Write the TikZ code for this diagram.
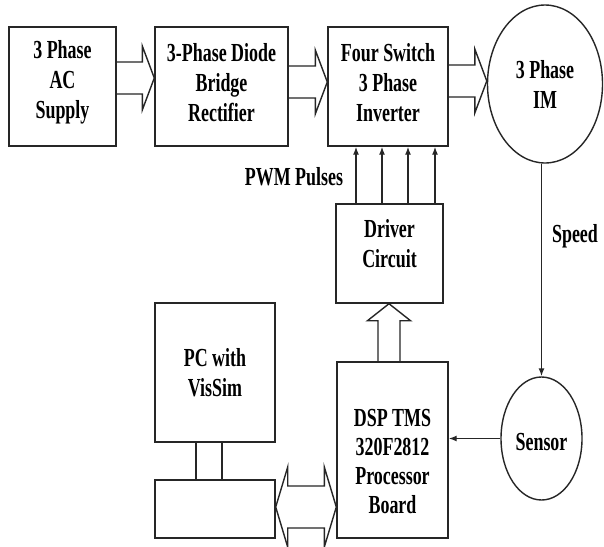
\documentclass[tikz,border=0pt]{standalone}
\usepackage{fontspec}
\setmainfont[FakeStretch=0.69,BoldFont={Liberation Serif Bold}]{Liberation Serif}
\usetikzlibrary{shapes.geometric,arrows.meta,calc}
\tikzset{
  ln/.style={line width=1.4pt, draw=black!85},
  box/.style={ln, rectangle, inner sep=0pt},
  oval/.style={ln, ellipse, inner sep=0pt},
  txt/.style={align=center, font=\fontsize{26}{30}\selectfont\bfseries, inner sep=0pt},
  hollowline/.style={ln, line join=miter},
  thin/.style={ln, -{Latex[length=8pt,width=6pt]}},
}
% hollow arrow to the right: from #1.east to #2.west, centred on y=#3
\newcommand\hollowR[3]{\draw[hollowline] let \p1=(#1.east), \p2=(#2.west) in
  (\x1,-#3pt+16pt) -- (\x2-12pt,-#3pt+16pt) -- (\x2-12pt,-#3pt+32pt) -- (\x2,-#3pt)
  -- (\x2-12pt,-#3pt-32pt) -- (\x2-12pt,-#3pt-16pt) -- (\x1,-#3pt-16pt);}
% hollow arrow upwards: from #1.north to #2.south, centred on x=#3
\newcommand\hollowU[3]{\draw[hollowline] let \p1=(#1.north), \p2=(#2.south) in
  (#3pt-11pt,\y1) -- (#3pt-11pt,\y2-17pt) -- (#3pt-21.5pt,\y2-17pt) -- (#3pt,\y2)
  -- (#3pt+21.5pt,\y2-17pt) -- (#3pt+11pt,\y2-17pt) -- (#3pt+11pt,\y1);}
% double hollow arrow between #1.east and #2.west, centred on y=#3
\newcommand\hollowLR[3]{\draw[hollowline] let \p1=(#1.east), \p2=(#2.west) in
  (\x1,-#3pt) -- (\x1+12pt,-#3pt+40pt) -- (\x1+12pt,-#3pt+21pt) -- (\x2-12pt,-#3pt+21pt)
  -- (\x2-12pt,-#3pt+40pt) -- (\x2,-#3pt) -- (\x2-12pt,-#3pt-40pt) -- (\x2-12pt,-#3pt-21pt)
  -- (\x1+12pt,-#3pt-21pt) -- (\x1+12pt,-#3pt-40pt) -- cycle;}
\begin{document}
\begin{tikzpicture}[x=1pt,y=1pt]
\clip (0,0) rectangle (604,-546);
\fill[white] (0,0) rectangle (604,-546);
% blocks
\node[box, minimum width=107, minimum height=119] (ac) at (62.5,-86.5) {};
\node[txt] at ($(ac.center)+(0,4)$) {3 Phase\\AC\\Supply};
\node[box, minimum width=133, minimum height=119] (rect) at (221.5,-86.5) {};
\node[txt] at ($(rect.center)+(0,4)$) {3-Phase Diode\\Bridge\\Rectifier};
\node[box, minimum width=120, minimum height=119] (inv) at (388,-86.5) {};
\node[txt] at ($(inv.center)+(0,4)$) {Four Switch\\3 Phase\\Inverter};
\node[oval, minimum width=115, minimum height=158] (im) at (545,-84) {};
\node[txt] at (im.center) {3 Phase\\IM};
\node[box, minimum width=107, minimum height=99] (drv) at (389.5,-253.5) {};
\node[txt] at ($(drv.center)+(0,10)$) {Driver\\Circuit};
\node[box, minimum width=111, minimum height=176] (dsp) at (392.5,-450) {};
\node[txt, font=\fontsize{26}{29}\selectfont\bfseries] at ($(dsp.center)+(0,-12)$) {DSP TMS\\320F2812\\Processor\\Board};
\node[box, minimum width=120, minimum height=139] (pc) at (215,-372.5) {};
\node[txt] at (pc.center) {PC with\\VisSim};
\node[box, minimum width=120, minimum height=58] (lb) at (215,-509) {};
\node[oval, minimum width=81, minimum height=123] (sen) at (541.5,-438.5) {};
\node[txt] at ($(sen.center)+(0,-4)$) {Sensor};
% labels
\node[txt] (pwm) at (294,-177) {PWM Pulses};
\node[txt] (spd) at (575,-236) {Speed};
% power path
\hollowR{ac}{rect}{78}
\hollowR{rect}{inv}{82}
\hollowR{inv}{im}{81}
% PWM pulses
\foreach \xx in {356,382,408,435}
  \draw[thin] (drv.north -| \xx,0) -- (inv.south -| \xx,0);
% DSP to driver
\hollowU{dsp}{drv}{389}
% PC to interface
\draw[ln] (pc.south -| 196,0) -- (lb.north -| 196,0);
\draw[ln] (pc.south -| 222,0) -- (lb.north -| 222,0);
% interface <-> DSP
\hollowLR{lb}{dsp}{507}
% speed feedback
\draw[thin] (sen.north |- im.south) -- (sen.north);
\draw[thin] (sen.west) -- (dsp.east |- sen.west);
\end{tikzpicture}
\end{document}
